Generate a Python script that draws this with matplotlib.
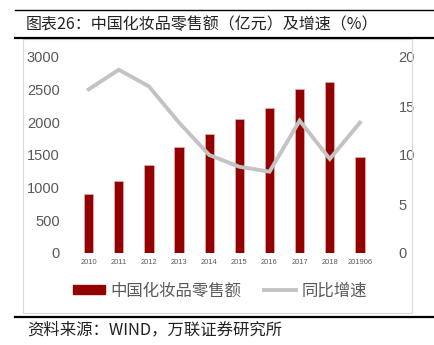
import matplotlib
matplotlib.use("Agg")
import matplotlib.pyplot as plt
from matplotlib.patches import Rectangle, Patch
from matplotlib.lines import Line2D
import numpy as np

plt.rcParams['font.family'] = ['Noto Sans CJK SC', 'DejaVu Sans']

categories = ['2010', '2011', '2012', '2013', '2014', '2015', '2016', '2017', '2018', '201906']
sales = [900, 1103, 1340, 1625, 1825, 2049, 2222, 2514, 2619, 1465]
growth = [16.7, 18.7, 17.0, 13.3, 10.0, 8.8, 8.3, 13.5, 9.6, 13.3]
left_ticks = [0, 500, 1000, 1500, 2000, 2500, 3000]
right_ticks = [0, 5, 10, 15, 20]

W, H = 434, 345
fig = plt.figure(figsize=(W / 100, H / 100), dpi=100)

def fx(px):
    return px / W

def fy(py):
    return 1 - py / H

# header / footer rules
fig.add_artist(Line2D([fx(15), fx(434)], [fy(10), fy(10)], color='black', lw=1.0, transform=fig.transFigure))
fig.add_artist(Line2D([fx(15), fx(434)], [fy(38), fy(38)], color='black', lw=1.6, transform=fig.transFigure))
fig.add_artist(Line2D([fx(15), fx(434)], [fy(316.5), fy(316.5)], color='black', lw=1.6, transform=fig.transFigure))
fig.add_artist(Rectangle((fx(23), fy(313)), fx(412) - fx(23), fy(39) - fy(313), fill=False,
                         edgecolor='#D9D9D9', lw=0.8, transform=fig.transFigure))

fig.text(fx(26), fy(24.5), '图表26：中国化妆品零售额（亿元）及增速（%）', fontsize=11.5,
         color='#222222', va='center', ha='left')
fig.text(fx(27), fy(330), '资料来源：WIND，万联证券研究所', fontsize=11.8, style='italic',
         color='#222222', va='center', ha='left')

ax = fig.add_axes([fx(73.6), fy(253), fx(375) - fx(73.6), (253 - 57) / H])
x = np.arange(len(categories))
ax.bar(x, sales, width=0.31, color='#920000', edgecolor='#E8B0B0', linewidth=0.5, zorder=2)
ax.set_xlim(-0.5, len(categories) - 0.5)
ax.set_ylim(0, 3000)
ax.set_yticks(left_ticks)
ax.set_xticks(x)
ax.set_xticklabels(categories, fontsize=5.4, color='#595959', family='Liberation Sans')
ax.tick_params(axis='both', length=0)
ax.tick_params(axis='y', labelsize=10.5, labelcolor='#595959', pad=10)
ax.tick_params(axis='x', pad=4)
for lab in ax.get_yticklabels():
    lab.set_family('Liberation Sans')
for s in ax.spines.values():
    s.set_visible(False)

ax2 = ax.twinx()
ax2.plot(x, growth, color='#C3C3C3', lw=2.8, solid_joinstyle='miter', zorder=3)
ax2.set_ylim(0, 20)
ax2.set_yticks(right_ticks)
ax2.tick_params(axis='y', length=0, labelsize=10.5, labelcolor='#595959', pad=17)
for lab in ax2.get_yticklabels():
    lab.set_family('Liberation Sans')
for s in ax2.spines.values():
    s.set_visible(False)

handles = [Patch(facecolor='#920000', edgecolor='#920000'),
           Line2D([0], [0], color='#C3C3C3', lw=2.8)]
fig.legend(handles, ['中国化妆品零售额', '同比增速'], loc='center', bbox_to_anchor=(fx(220), fy(291)),
           ncol=2, frameon=False, fontsize=11.8, labelcolor='#595959', handlelength=1.95,
           handleheight=0.5, columnspacing=1.4, handletextpad=0.3)

fig.savefig('out.png', dpi=100)
